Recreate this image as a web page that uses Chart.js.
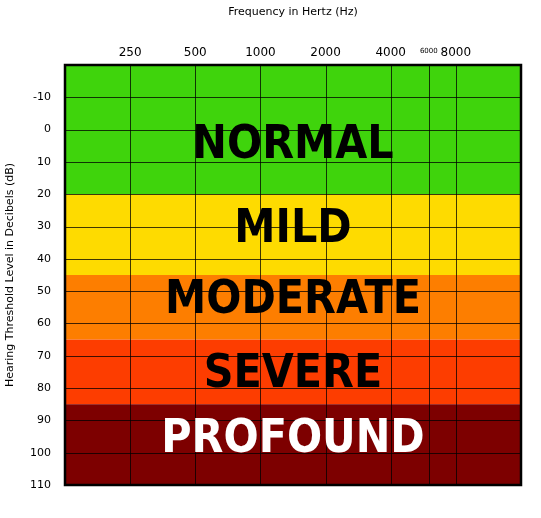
<!DOCTYPE html>
<html>
<head>
<meta charset="utf-8">
<script src="https://cdn.jsdelivr.net/npm/chart.js@4"></script>
<style>
  html, body { margin: 0; padding: 0; background: #fff; }
  #wrap { width: 541px; height: 518px; }
</style>
</head>
<body>
<div id="wrap"><canvas id="audiogram"></canvas></div>
<script>
// frequency ticks (Hz) and hearing level ticks (dB)
const freqTicks = [250, 500, 1000, 2000, 4000, 6000, 8000];
const freqGrid = [250, 500, 1000, 2000, 4000, 6000, 8000];
const dbTicks = [-10, 0, 10, 20, 30, 40, 50, 60, 70, 80, 90, 100, 110];

// hearing loss bands
const bandNames = ['NORMAL', 'MILD', 'MODERATE', 'SEVERE', 'PROFOUND'];
const bandFrom = [-20, 20, 45, 65, 85];
const bandTo = [20, 45, 65, 85, 110];
const bandLabelAt = [5, 31, 53, 76, 96];
const bandColors = ['#3fd40c', '#fedb00', '#fd7e00', '#fd3d00', '#7d0000'];
const bandTextColors = ['#000', '#000', '#000', '#000', '#fff'];

const bandsPlugin = {
    id: 'bands',
    beforeDatasetsDraw(chart) {
        const { ctx, chartArea, scales } = chart;
        const y = scales.y;
        ctx.save();
        bandNames.forEach((name, i) => {
            const top = y.getPixelForValue(bandFrom[i]);
            const bottom = y.getPixelForValue(bandTo[i]);
            ctx.fillStyle = bandColors[i];
            ctx.fillRect(chartArea.left, top, chartArea.right - chartArea.left, bottom - top);
        });
        // grid lines on top of the colour
        ctx.strokeStyle = 'rgba(0,0,0,0.75)';
        ctx.lineWidth = 1;
        freqGrid.forEach(f => {
            const px = Math.round(scales.x.getPixelForValue(f)) + 0.5;
            ctx.beginPath();
            ctx.moveTo(px, chartArea.top);
            ctx.lineTo(px, chartArea.bottom);
            ctx.stroke();
        });
        dbTicks.forEach(d => {
            const py = Math.round(y.getPixelForValue(d)) + 0.5;
            ctx.beginPath();
            ctx.moveTo(chartArea.left, py);
            ctx.lineTo(chartArea.right, py);
            ctx.stroke();
        });
        // labels
        const cx = (chartArea.left + chartArea.right) / 2;
        ctx.textAlign = 'center';
        ctx.textBaseline = 'middle';
        ctx.font = 'bold 46px "Liberation Sans Narrow", "DejaVu Sans Condensed", sans-serif';
        bandNames.forEach((name, i) => {
            ctx.fillStyle = bandTextColors[i];
            ctx.fillText(name, cx, y.getPixelForValue(bandLabelAt[i]));
        });
        ctx.strokeStyle = '#000';
        ctx.lineWidth = 2.5;
        ctx.strokeRect(chartArea.left, chartArea.top, chartArea.right - chartArea.left, chartArea.bottom - chartArea.top);
        ctx.restore();
    }
};

new Chart(document.getElementById('audiogram'), {
    type: 'line',
    data: { datasets: [{ data: [] }] },
    options: {
        responsive: true,
        maintainAspectRatio: false,
        animation: false,
        layout: { padding: { left: 4, right: 20, top: 6, bottom: 33 } },
        plugins: { legend: { display: false }, tooltip: { enabled: false } },
        scales: {
            x: {
                type: 'logarithmic',
                position: 'top',
                min: 125,
                max: 16000,
                grid: { display: false },
                border: { display: false },
                afterBuildTicks: s => { s.ticks = freqTicks.map(v => ({ value: v })); },
                afterFit: s => { s.height = 59; },
                ticks: {
                    autoSkip: false,
                    maxRotation: 0,
                    color: '#000',
                    padding: -3,
                    callback: v => String(v),
                    font: ctx => ({ family: 'DejaVu Sans', size: ctx.tick && ctx.tick.value === 6000 ? 7 : 12, lineHeight: ctx.tick && ctx.tick.value === 6000 ? 2.6 : 1.2 })
                },
                title: { display: true, text: 'Frequency in Hertz (Hz)', color: '#000', font: { family: 'DejaVu Sans', size: 11 }, padding: { top: 0, bottom: 10 } }
            },
            y: {
                reverse: true,
                min: -20,
                max: 110,
                grid: { display: false },
                border: { display: false },
                afterBuildTicks: s => { s.ticks = dbTicks.map(v => ({ value: v })); },
                afterFit: s => { s.width = 61; },
                ticks: { color: '#000', padding: 6, font: { family: 'DejaVu Sans', size: 11 } },
                title: { display: true, text: 'Hearing Threshold Level in Decibels (dB)', color: '#000', font: { family: 'DejaVu Sans', size: 11 }, padding: 0 }
            }
        }
    },
    plugins: [bandsPlugin]
});
</script>
</body>
</html>
